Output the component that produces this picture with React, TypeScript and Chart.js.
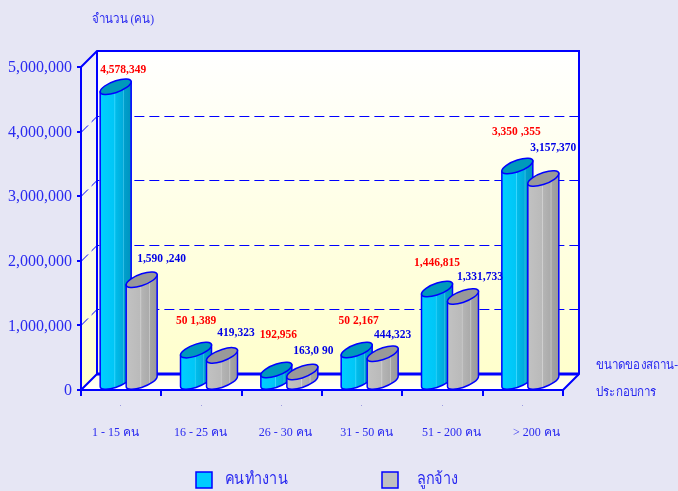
import React, { useEffect, useRef } from "react";
import { Chart, registerables } from "chart.js";

Chart.register(...registerables);

const categories = ["1 - 15 คน", "16 - 25 คน", "26 - 30 คน", "31 - 50 คน", "51 - 200 คน", "> 200 คน"];
const workers = [4578349, 501389, 192956, 502167, 1446815, 3350355];
const employees = [1590240, 419323, 163090, 444323, 1331733, 3157370];
const workerLabels = ["4,578,349", "50 1,389", "192,956", "50 2,167", "1,446,815", "3,350 ,355"];
const employeeLabels = ["1,590 ,240", "419,323", "163,0 90", "444,323", "1,331,733", "3,157,370"];
const seriesNames = ["คนทำงาน", "ลูกจ้าง"];
const yTitle = "จำนวน (คน)";
const xTitle = ["ขนาดของสถาน-", "ประกอบการ"];

const BG = "#E6E6F4";
const BLUE = "#0000FF";
const TEXT = "#2A2AF0";
const SERIF = "'Liberation Serif', 'Times New Roman', serif";
const DEPTH = 16;
const BAR_SHIFT = 7.5;

const workerOffset = [[7.5, -17], [0, -29], [2, -35], [2, -29], [0, -26], [-1, -34]];
const employeeOffset = [[20, -21], [14, -22], [11, -21], [10, -19], [17, -19], [10, -31]];
const tickLabelShift = [-5.7, -1, 3.4, 4.5, 9, 13.5];

const blueStops: [number, string][] = [[0, "#00CFFF"], [0.45, "#00C6F6"], [0.47, "#3DD8FF"], [0.5, "#00BCEA"], [0.72, "#00ACDC"], [0.75, "#33BFE6"], [0.78, "#009FCC"], [1, "#0094BE"]];
const greyStops: [number, string][] = [[0, "#C2C2C2"], [0.45, "#BABABA"], [0.47, "#D2D2D2"], [0.5, "#B4B4B4"], [0.72, "#ABABAB"], [0.75, "#C6C6C6"], [0.78, "#A4A4A4"], [1, "#9A9A9A"]];
const capColours = ["#0099BB", "#999999"];
const sideStops = [blueStops, greyStops];
const legendSwatches = ["#00CCFF", "#C0C0C0"];

function cylinder(ctx: CanvasRenderingContext2D, cx: number, top: number, bottom: number, hw: number, series: number) {
  const rise = hw * 0.32;
  const bulge = 6;
  const unit = (c: number, cy: number) => ctx.transform(hw, -rise, 0, bulge, c, cy);

  ctx.save();
  const g = ctx.createLinearGradient(cx - hw, 0, cx + hw, 0);
  sideStops[series].forEach(([o, c]) => g.addColorStop(o, c));
  ctx.beginPath();
  ctx.moveTo(cx - hw, top + rise);
  ctx.lineTo(cx - hw, bottom + rise);
  ctx.save();
  unit(cx, bottom);
  ctx.arc(0, 0, 1, Math.PI, 0, true);
  ctx.restore();
  ctx.lineTo(cx + hw, top - rise);
  ctx.closePath();
  ctx.fillStyle = g;
  ctx.fill();
  ctx.strokeStyle = BLUE;
  ctx.lineWidth = 1.5;
  ctx.stroke();

  ctx.beginPath();
  ctx.save();
  unit(cx, top);
  ctx.arc(0, 0, 1, 0, Math.PI * 2);
  ctx.restore();
  ctx.fillStyle = capColours[series];
  ctx.fill();
  ctx.stroke();
  ctx.restore();
}

function condensed(ctx: CanvasRenderingContext2D, text: string, x: number, y: number, sx: number) {
  ctx.save();
  ctx.translate(x, y);
  ctx.scale(sx, 1);
  ctx.fillText(text, 0, 0);
  ctx.restore();
}

const scenePlugin = {
  id: "scene",
  beforeDraw(chart: any) {
    const { ctx, chartArea: a, scales } = chart;
    const { left: l, right: r, top: t, bottom: b } = a;
    const d = DEPTH;
    ctx.save();
    const side = ctx.createLinearGradient(0, t - d, 0, b);
    side.addColorStop(0, "#EEEEF8");
    side.addColorStop(0.5, "#FBFBEE");
    side.addColorStop(1, "#FFFFCC");
    ctx.fillStyle = side;
    ctx.beginPath();
    ctx.moveTo(l, t);
    ctx.lineTo(l + d, t - d);
    ctx.lineTo(l + d, b - d);
    ctx.lineTo(l, b);
    ctx.closePath();
    ctx.fill();
    const wall = ctx.createLinearGradient(0, t - d, 0, b - d);
    wall.addColorStop(0, "#FFFFFF");
    wall.addColorStop(1, "#FFFFCC");
    ctx.fillStyle = wall;
    ctx.fillRect(l + d, t - d, r - l, b - t);
    const floor = ctx.createLinearGradient(0, b - d, 0, b);
    floor.addColorStop(0, "#FFFFDD");
    floor.addColorStop(1, "#FFFFFF");
    ctx.fillStyle = floor;
    ctx.beginPath();
    ctx.moveTo(l, b);
    ctx.lineTo(l + d, b - d);
    ctx.lineTo(r + d, b - d);
    ctx.lineTo(r, b);
    ctx.closePath();
    ctx.fill();

    // Dashed grid on the back wall and its side return
    ctx.strokeStyle = BLUE;
    ctx.lineWidth = 1;
    ctx.setLineDash([10, 5]);
    scales.y.ticks.forEach((tk: any) => {
      if (tk.value === 0 || tk.value === 5000000) return;
      const y = Math.round(scales.y.getPixelForValue(tk.value)) + 0.5;
      ctx.beginPath();
      ctx.moveTo(l, y);
      ctx.lineTo(l + d, y - d);
      ctx.lineTo(r + d, y - d);
      ctx.stroke();
    });
    ctx.setLineDash([]);

    // Frame
    ctx.strokeStyle = BLUE;
    ctx.lineWidth = 2;
    ctx.beginPath();
    ctx.moveTo(l, t);
    ctx.lineTo(l + d, t - d);
    ctx.lineTo(r + d, t - d);
    ctx.lineTo(r + d, b - d);
    ctx.lineTo(r, b);
    ctx.moveTo(l + d, t - d);
    ctx.lineTo(l + d, b - d);
    ctx.lineTo(l, b);
    ctx.stroke();
    ctx.lineWidth = 3;
    ctx.beginPath();
    ctx.moveTo(l + d, b - d);
    ctx.lineTo(r + d, b - d);
    ctx.stroke();
    ctx.restore();
  },
  afterDatasetsDraw(chart: any) {
    const { ctx, scales } = chart;
    [0, 1].forEach((s) => {
      chart.getDatasetMeta(s).data.forEach((bar: any) => {
        cylinder(ctx, bar.x + BAR_SHIFT, bar.y - BAR_SHIFT, bar.base - BAR_SHIFT, bar.width / 2 + 2.5, s);
      });
    });

    ctx.save();
    ctx.textAlign = "center";
    ctx.textBaseline = "middle";
    ctx.font = `bold 11.5px ${SERIF}`;
    const sets = [
      { labels: workerLabels, offs: workerOffset, colour: "#FF0000" },
      { labels: employeeLabels, offs: employeeOffset, colour: "#0000E6" },
    ];
    sets.forEach(({ labels, offs, colour }, s) => {
      ctx.fillStyle = colour;
      chart.getDatasetMeta(s).data.forEach((bar: any, i: number) => {
        ctx.fillText(labels[i], bar.x + BAR_SHIFT + offs[i][0], bar.y - BAR_SHIFT + offs[i][1]);
      });
    });

    // Tiny marks under the axis
    ctx.fillStyle = "#9A9AE0";
    categories.forEach((_, i) => ctx.fillRect(Math.round(scales.x.getPixelForTick(i)) - 1, 405, 1, 1));

    // Titles
    ctx.textAlign = "left";
    ctx.fillStyle = TEXT;
    ctx.font = `13px ${SERIF}`;
    condensed(ctx, yTitle, 92, 20, 0.89);
    condensed(ctx, xTitle[0], 596, 366, 0.89);
    condensed(ctx, xTitle[1], 596, 393, 0.89);

    // Legend
    ctx.font = `17px ${SERIF}`;
    const swatchX = [196, 382];
    const textX = [225, 417];
    seriesNames.forEach((name, i) => {
      ctx.fillStyle = legendSwatches[i];
      ctx.fillRect(swatchX[i], 472, 16, 16);
      ctx.strokeStyle = BLUE;
      ctx.lineWidth = 1.5;
      ctx.strokeRect(swatchX[i], 472, 16, 16);
      ctx.fillStyle = TEXT;
      condensed(ctx, name, textX[i], 480, 0.85);
    });
    ctx.restore();
  },
};

export default function App() {
  const ref = useRef<HTMLCanvasElement>(null);
  useEffect(() => {
    const chart = new Chart(ref.current!, {
      type: "bar",
      data: {
        labels: categories,
        datasets: [
          { label: seriesNames[0], data: workers, backgroundColor: "transparent", borderWidth: 0 },
          { label: seriesNames[1], data: employees, backgroundColor: "transparent", borderWidth: 0 },
        ],
      },
      options: {
        responsive: false,
        animation: false,
        layout: { padding: { top: 67, right: 115, left: 0, bottom: 0 } },
        datasets: { bar: { categoryPercentage: 0.647, barPercentage: 1 } },
        plugins: { legend: { display: false }, tooltip: { enabled: false }, title: { display: false } },
        scales: {
          x: {
            afterFit(s: any) {
              s.height = 101;
            },
            afterUpdate(s: any) {
              const orig = s.getLabelItems.bind(s);
              let done = false;
              s.getLabelItems = (area: any) => {
                const items = orig(area);
                if (!done) {
                  items.forEach((it: any, i: number) => {
                    it.options.translation[0] += tickLabelShift[i] ?? 0;
                  });
                  done = true;
                }
                return items;
              };
            },
            grid: { drawOnChartArea: false, color: BLUE, lineWidth: 2, tickLength: 6 },
            border: { color: BLUE, width: 2 },
            ticks: { color: TEXT, padding: 30, maxRotation: 0, autoSkip: false, font: { family: SERIF, size: 12 } },
          },
          y: {
            min: 0,
            max: 5000000,
            afterFit(s: any) {
              s.width = 81;
            },
            grid: { drawOnChartArea: false, color: BLUE, lineWidth: 2, tickLength: 4 },
            border: { color: BLUE, width: 2 },
            ticks: {
              stepSize: 1000000,
              color: TEXT,
              padding: 5,
              labelOffset: 1,
              font: { family: SERIF, size: 16 },
              callback: (v: any) => Number(v).toLocaleString("en-US"),
            },
          },
        },
      },
      plugins: [scenePlugin],
    } as any);
    return () => chart.destroy();
  }, []);
  return (
    <div style={{ position: "fixed", inset: 0, background: BG, overflow: "hidden" }}>
      <canvas ref={ref} width={678} height={491} style={{ display: "block", width: 678, height: 491 }} />
    </div>
  );
}
